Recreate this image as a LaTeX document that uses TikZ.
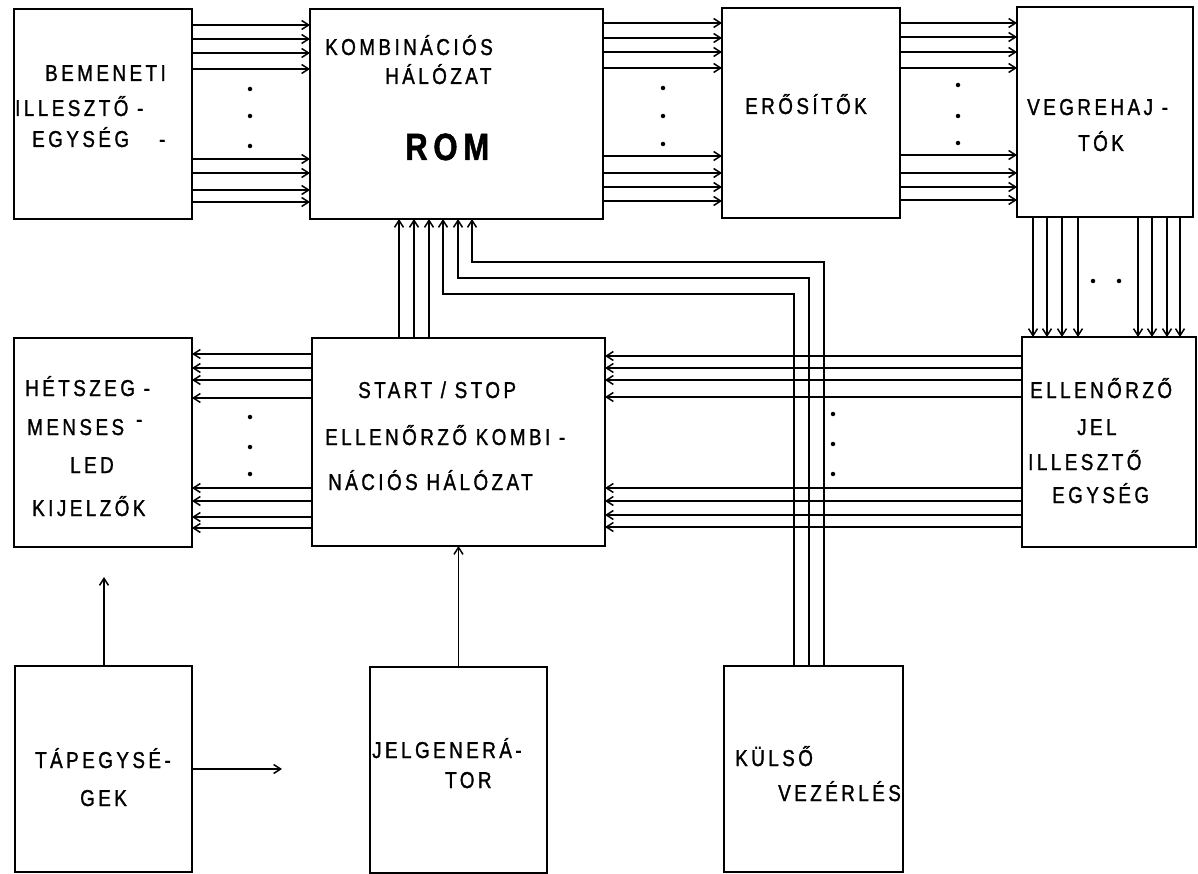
\documentclass[tikz,border=0pt]{standalone}
\usepackage{fontspec}
\newfontfamily\lab[FakeStretch=0.82,LetterSpace=15,FakeBold=1.2]{Liberation Sans}
\usetikzlibrary{arrows.meta}
\begin{document}
\begin{tikzpicture}[x=1pt,y=-1pt,
  box/.style={draw, line width=2.8pt, inner sep=0pt, outer sep=0pt},
  ar/.style={line width=1.3pt, -{Straight Barb[length=7pt,width=9pt,line width=1.5pt]}},
  txt/.style={anchor=base west, inner sep=0pt, font=\lab\fontsize{23}{26}\selectfont},
  dot/.style={circle, fill, inner sep=0pt, minimum size=4.5pt}]
\fill[white] (0,0) rectangle (1198,874);
\useasboundingbox (0,0) rectangle (1198,874);
% boxes
\node[box, minimum width=178pt, minimum height=210pt] (bem) at (103,114) {};
\node[box, minimum width=293pt, minimum height=210pt] (rom) at (456.5,114) {};
\node[box, minimum width=178pt, minimum height=210pt] (ero) at (811,113) {};
\node[box, minimum width=176pt, minimum height=210pt] (veg) at (1105,112) {};
\node[box, minimum width=178pt, minimum height=209pt] (het) at (103,442.5) {};
\node[box, minimum width=293pt, minimum height=208pt] (ss) at (458.5,442) {};
\node[box, minimum width=174pt, minimum height=210pt] (ell) at (1109,442) {};
\node[box, minimum width=177pt, minimum height=206pt] (tap) at (103.5,769) {};
\node[box, minimum width=177pt, minimum height=206pt] (jel) at (458.5,770) {};
\node[box, minimum width=179pt, minimum height=206pt] (kv) at (813.5,769) {};
% texts
\node[txt] (t1) at (45,81) {BEMENETI};
\node[txt] (t2) at (15,116) {ILLESZTŐ -};
\node[txt] (t3) at (32,147) {EGYSÉG\hspace{30pt}-};
\node[txt] (t4) at (325,55) {KOMBINÁCIÓS};
\node[txt] (t5) at (385,84) {HÁLÓZAT};
\node[txt, font=\lab\bfseries\fontsize{38}{40}\selectfont] (t6) at (405,160) {ROM};
\node[txt] (t7) at (745,114) {ERŐSÍTŐK};
\node[txt] (t8) at (1027,115) {VEGREHAJ -};
\node[txt] (t9) at (1078,151) {TÓK};
\node[txt] (t10) at (25,396) {HÉTSZEG -};
\node[txt] (t11) at (27,435) {MENSES\hspace{12pt}\raisebox{8pt}{-}};
\node[txt] (t12) at (70,473) {LED};
\node[txt] (t13) at (32,516) {KIJELZŐK};
\node[txt] (t14) at (358,398) {START / STOP};
\node[txt] (t15) at (325,445) {ELLENŐRZŐ KOMBI -};
\node[txt] (t16) at (328,490) {NÁCIÓS HÁLÓZAT};
\node[txt] (t17) at (1030,398) {ELLENŐRZŐ};
\node[txt] (t18) at (1077,435) {JEL};
\node[txt] (t19) at (1028,470) {ILLESZTŐ};
\node[txt] (t20) at (1052,503) {EGYSÉG};
\node[txt] (t21) at (35,768) {TÁPEGYSÉ-};
\node[txt] (t22) at (80,806) {GEK};
\node[txt] (t23) at (372,758) {JELGENERÁ-};
\node[txt] (t24) at (445,788) {TOR};
\node[txt] (t25) at (735,766) {KÜLSŐ};
\node[txt] (t26) at (778,801) {VEZÉRLÉS};
% bem -> rom
\foreach \y in {25,39,53,69,159,173,190,202}
  \draw[ar] (bem.east |- 0,\y) -- (rom.west |- 0,\y);
% rom -> ero
\foreach \y in {23,38,52,68,156,173,187,201}
  \draw[ar] (rom.east |- 0,\y) -- (ero.west |- 0,\y);
% ero -> veg
\foreach \y in {23,37,52,68,155,173,187,200}
  \draw[ar] (ero.east |- 0,\y) -- (veg.west |- 0,\y);
% veg -> ell
\foreach \x in {1033,1047,1062,1078,1138,1152,1167,1180}
  \draw[ar] (veg.south -| \x,0) -- (ell.north -| \x,0);
% ss -> rom
\foreach \x in {399,414,429}
  \draw[ar] (ss.north -| \x,0) -- (rom.south -| \x,0);
% kv -> rom
\coordinate (k1) at (794,294); \coordinate (r1) at (443,294);
\coordinate (k2) at (809,278); \coordinate (r2) at (458,278);
\coordinate (k3) at (824,262); \coordinate (r3) at (472,262);
\draw[ar] (kv.north -| k1) -- (k1) -- (r1) -- (rom.south -| r1);
\draw[ar] (kv.north -| k2) -- (k2) -- (r2) -- (rom.south -| r2);
\draw[ar] (kv.north -| k3) -- (k3) -- (r3) -- (rom.south -| r3);
% ell -> ss
\foreach \y in {356,368,380,397,488,501,515,527}
  \draw[ar] (ell.west |- 0,\y) -- (ss.east |- 0,\y);
% ss -> het
\foreach \y in {354,368,380,398,488,501,517,528}
  \draw[ar] (ss.west |- 0,\y) -- (het.east |- 0,\y);
% jel -> ss
\draw[ar] (jel.north) -- (jel.north |- ss.south);
% tap arrows
\coordinate (tup) at (104,577);
\coordinate (trt) at (282,769);
\draw[ar] (tap.north -| tup) -- (tup);
\draw[ar] (tap.east |- trt) -- (trt);
% dots
\foreach \x/\y [count=\i] in {250/89,250/116,250/146,663/88,663/116,663/144,958/85,958/116,958/143,1093/281,1119/281,250/417,250/447,250/474,833/414,833/444,833/474}
  \node[dot] (d\i) at (\x,\y) {};
\end{tikzpicture}
\end{document}
